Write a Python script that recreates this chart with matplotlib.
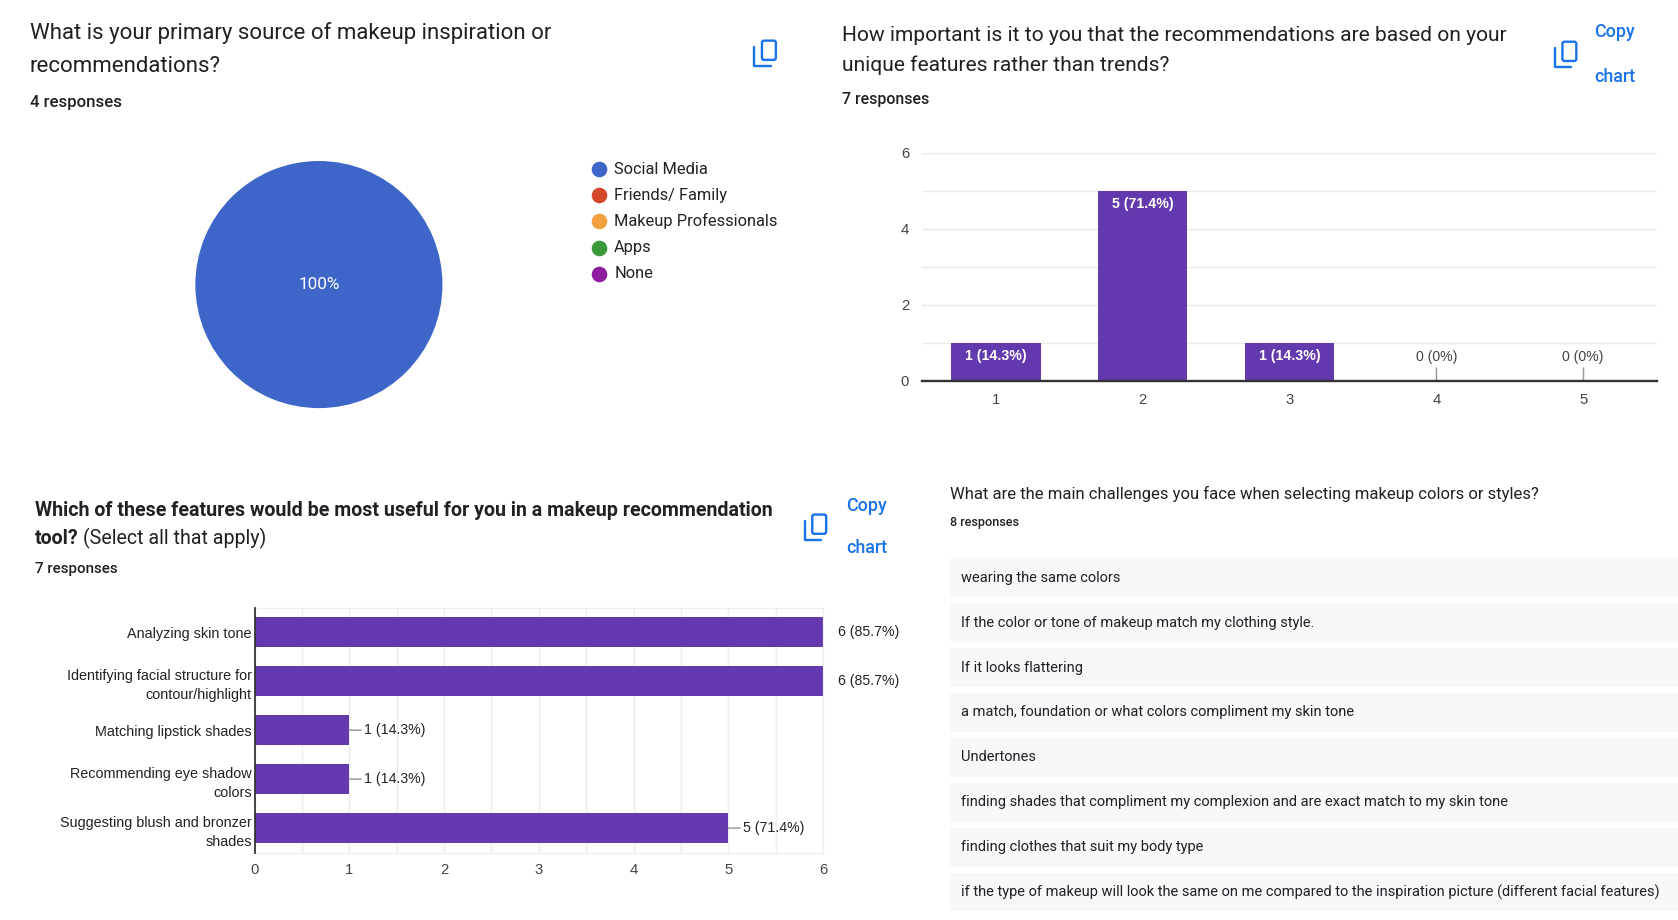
import matplotlib
matplotlib.use('Agg')
import matplotlib.pyplot as plt
from matplotlib.patches import Rectangle, FancyBboxPatch

# --- data ---
pie_labels = ['Social Media', 'Friends/ Family', 'Makeup Professionals', 'Apps', 'None']
pie_counts = [4, 0, 0, 0, 0]
pie_colors = ['#3d66c8', '#d4492b', '#f2a03d', '#3a9a3a', '#8e1c9e']

imp_scale = [1, 2, 3, 4, 5]
imp_counts = [1, 5, 1, 0, 0]
imp_total = 7

feat_labels = ['Analyzing skin tone',
               'Identifying facial structure for\ncontour/highlight',
               'Matching lipstick shades',
               'Recommending eye shadow\ncolors',
               'Suggesting blush and bronzer\nshades']
feat_counts = [6, 6, 1, 1, 5]
feat_total = 7

challenges = ['wearing the same colors',
              'If the color or tone of makeup match my clothing style.',
              'If it looks flattering',
              'a match, foundation or what colors compliment my skin tone',
              'Undertones',
              'finding shades that compliment my complexion and are exact match to my skin tone',
              'finding clothes that suit my body type',
              'if the type of makeup will look the same on me compared to the inspiration picture (different facial features)']

PURPLE = '#6339ae'
BLUE = '#1a73e8'
DARK = '#202124'

plt.rcParams['font.family'] = ['Roboto', 'DejaVu Sans']
CHART_FONT = ['Liberation Sans', 'DejaVu Sans']

# layout is in a 1568x860 unit space, saved at 1678x920 px
W, H = 1568, 860
DPI = 107
fig = plt.figure(figsize=(1678 / DPI, 920 / DPI), dpi=DPI)
fig.patch.set_facecolor('white')

ov = fig.add_axes([0, 0, 1, 1])
ov.set_xlim(0, W)
ov.set_ylim(H, 0)
ov.axis('off')


def px_axes(x0, y0, x1, y1):
    ax = fig.add_axes([x0 / W, 1 - y1 / H, (x1 - x0) / W, (y1 - y0) / H])
    ax.set_facecolor('none')
    return ax


def txt(x, y, s, **kw):
    kw.setdefault('va', 'center')
    kw.setdefault('color', DARK)
    return ov.text(x, y, s, **kw)


def pct_label(c, total):
    p = c / total * 100
    if abs(p - round(p)) < 1e-9:
        return f'{c} ({p:.0f}%)'
    return f'{c} ({p:.1f}%)'


def copy_icon(cx, cy):
    ov.add_patch(FancyBboxPatch((cx - 3, cy - 12), 13, 18,
                                boxstyle='round,pad=0,rounding_size=2',
                                fill=False, ec=BLUE, lw=1.6))
    ov.plot([cx - 10, cx - 10, cx + 5], [cy - 6, cy + 11.5, cy + 11.5],
            color=BLUE, lw=1.6, solid_capstyle='round', solid_joinstyle='round')


# --- panel 1: pie ---
txt(28, 31, 'What is your primary source of makeup inspiration or', fontsize=15)
txt(28, 62, 'recommendations?', fontsize=15)
txt(28, 96, '4 responses', fontsize=11.3, fontweight='medium')
copy_icon(715, 50)

ax1 = px_axes(182.5, 150.5, 413.5, 381.5)
ax1.pie(pie_counts, colors=pie_colors, startangle=90, counterclock=False,
        autopct=lambda p: f'{p:.0f}%' if p > 0 else '', pctdistance=0,
        wedgeprops=dict(linewidth=0),
        textprops=dict(color='white', fontsize=11.5))
ax1.set_xlim(-1, 1)
ax1.set_ylim(-1, 1)

for i, (lab, col) in enumerate(zip(pie_labels, pie_colors)):
    y = 158 + 24.5 * i
    ov.plot(560, y, 'o', ms=10.5, color=col, mec='none')
    txt(574, y, lab, fontsize=11, color='#222222')

# --- panel 2: vertical bars ---
txt(787, 33, 'How important is it to you that the recommendations are based on your', fontsize=14.1)
txt(787, 61, 'unique features rather than trends?', fontsize=14.1)
txt(787, 93, '7 responses', fontsize=10.7, fontweight='medium')
copy_icon(1463, 51)
txt(1509, 30, 'Copy', fontsize=12, color=BLUE, ha='center', fontweight='medium')
txt(1509, 72, 'chart', fontsize=12, color=BLUE, ha='center', fontweight='medium')

ax2 = px_axes(862, 143, 1548, 356)
ax2.bar(imp_scale, imp_counts, width=0.61, color=PURPLE, zorder=2)
ax2.set_xlim(0.5, 5.5)
ax2.set_ylim(0, 6)
ax2.set_xticks(imp_scale)
ax2.set_yticks([0, 2, 4, 6])
ax2.set_yticks([1, 3, 5], minor=True)
ax2.grid(axis='y', which='both', color='#ebebeb', lw=1, zorder=0)
for s in ['top', 'right', 'left']:
    ax2.spines[s].set_visible(False)
ax2.spines['bottom'].set_color('#333333')
ax2.spines['bottom'].set_linewidth(1.6)
ax2.spines['bottom'].set_zorder(3)
ax2.tick_params(axis='both', which='both', length=0, labelsize=10, colors='#444444')
ax2.tick_params(axis='x', pad=8)
ax2.tick_params(axis='y', pad=9)
for lab in ax2.get_xticklabels() + ax2.get_yticklabels():
    lab.set_family(CHART_FONT)
for x, c in zip(imp_scale, imp_counts):
    s = pct_label(c, imp_total)
    if c > 0:
        ax2.annotate(s, (x, c), xytext=(0, -4), textcoords='offset points',
                     ha='center', va='top', color='white', fontsize=9.5,
                     fontweight='bold', family=CHART_FONT, zorder=4)
    else:
        ax2.vlines(x, 0, 0.37, color='#999999', lw=1, zorder=3)
        ax2.text(x, 0.62, s, ha='center', va='center', color='#444444',
                 fontsize=9.5, family=CHART_FONT)

# --- panel 3: horizontal bars ---
txt(33, 477, 'Which of these features would be most useful for you in a makeup recommendation',
    fontsize=13.2, fontweight='bold')
t3b = txt(33, 503, 'tool?', fontsize=13.2, fontweight='bold')
fig.canvas.draw()
bb = t3b.get_window_extent(fig.canvas.get_renderer())
x_end = ov.transData.inverted().transform((bb.x1, bb.y0))[0]
txt(x_end + 4, 503, '(Select all that apply)', fontsize=13.2)
txt(33, 532, '7 responses', fontsize=10.2, fontweight='medium')
copy_icon(762, 493)
txt(810, 473, 'Copy', fontsize=12, color=BLUE, ha='center', fontweight='medium')
txt(810, 512, 'chart', fontsize=12, color=BLUE, ha='center', fontweight='medium')

ax3 = px_axes(238, 568, 769, 797)
ypos = list(range(len(feat_labels)))
ax3.barh(ypos, feat_counts, height=0.61, color=PURPLE, zorder=2)
ax3.set_xlim(0, 6)
ax3.set_ylim(len(feat_labels) - 0.5, -0.5)
ax3.set_xticks(range(7))
ax3.set_xticks([i + 0.5 for i in range(6)], minor=True)
ax3.set_yticks(ypos)
ax3.set_yticklabels(feat_labels, linespacing=1.5)
ax3.grid(axis='x', which='both', color='#eeeeee', lw=1, zorder=0)
for s in ['top', 'right', 'bottom']:
    ax3.spines[s].set_color('#eeeeee')
ax3.spines['left'].set_color('#333333')
ax3.spines['left'].set_linewidth(1.2)
ax3.spines['left'].set_zorder(3)
ax3.tick_params(axis='both', which='both', length=0, labelsize=9.7, colors='#222222')
ax3.tick_params(axis='y', pad=2)
ax3.tick_params(axis='x', pad=7, colors='#444444', labelsize=10)
for lab in ax3.get_xticklabels() + ax3.get_yticklabels():
    lab.set_family(CHART_FONT)
vmax = max(feat_counts)
for y, c in zip(ypos, feat_counts):
    if c < vmax:
        ax3.annotate('', (c, y), xytext=(8, 0), textcoords='offset points',
                     arrowprops=dict(arrowstyle='-', color='#999999', lw=1,
                                     shrinkA=0, shrinkB=0))
    ax3.annotate(pct_label(c, feat_total), (c, y), xytext=(10, 0),
                 textcoords='offset points', ha='left', va='center',
                 fontsize=9.5, color='#222222', family=CHART_FONT,
                 annotation_clip=False)

# --- panel 4: text responses ---
txt(888, 462, 'What are the main challenges you face when selecting makeup colors or styles?',
    fontsize=11.2)
txt(888, 488, f'{len(challenges)} responses', fontsize=8.5, fontweight='medium')
for i, s in enumerate(challenges):
    y = 540 + 42 * i
    ov.add_patch(Rectangle((888, y - 18), W - 888 + 10, 36, fc='#f7f8f9', ec='none'))
    txt(898, y, s, fontsize=9.85)

fig.savefig('out.png', dpi=DPI, facecolor='white')
